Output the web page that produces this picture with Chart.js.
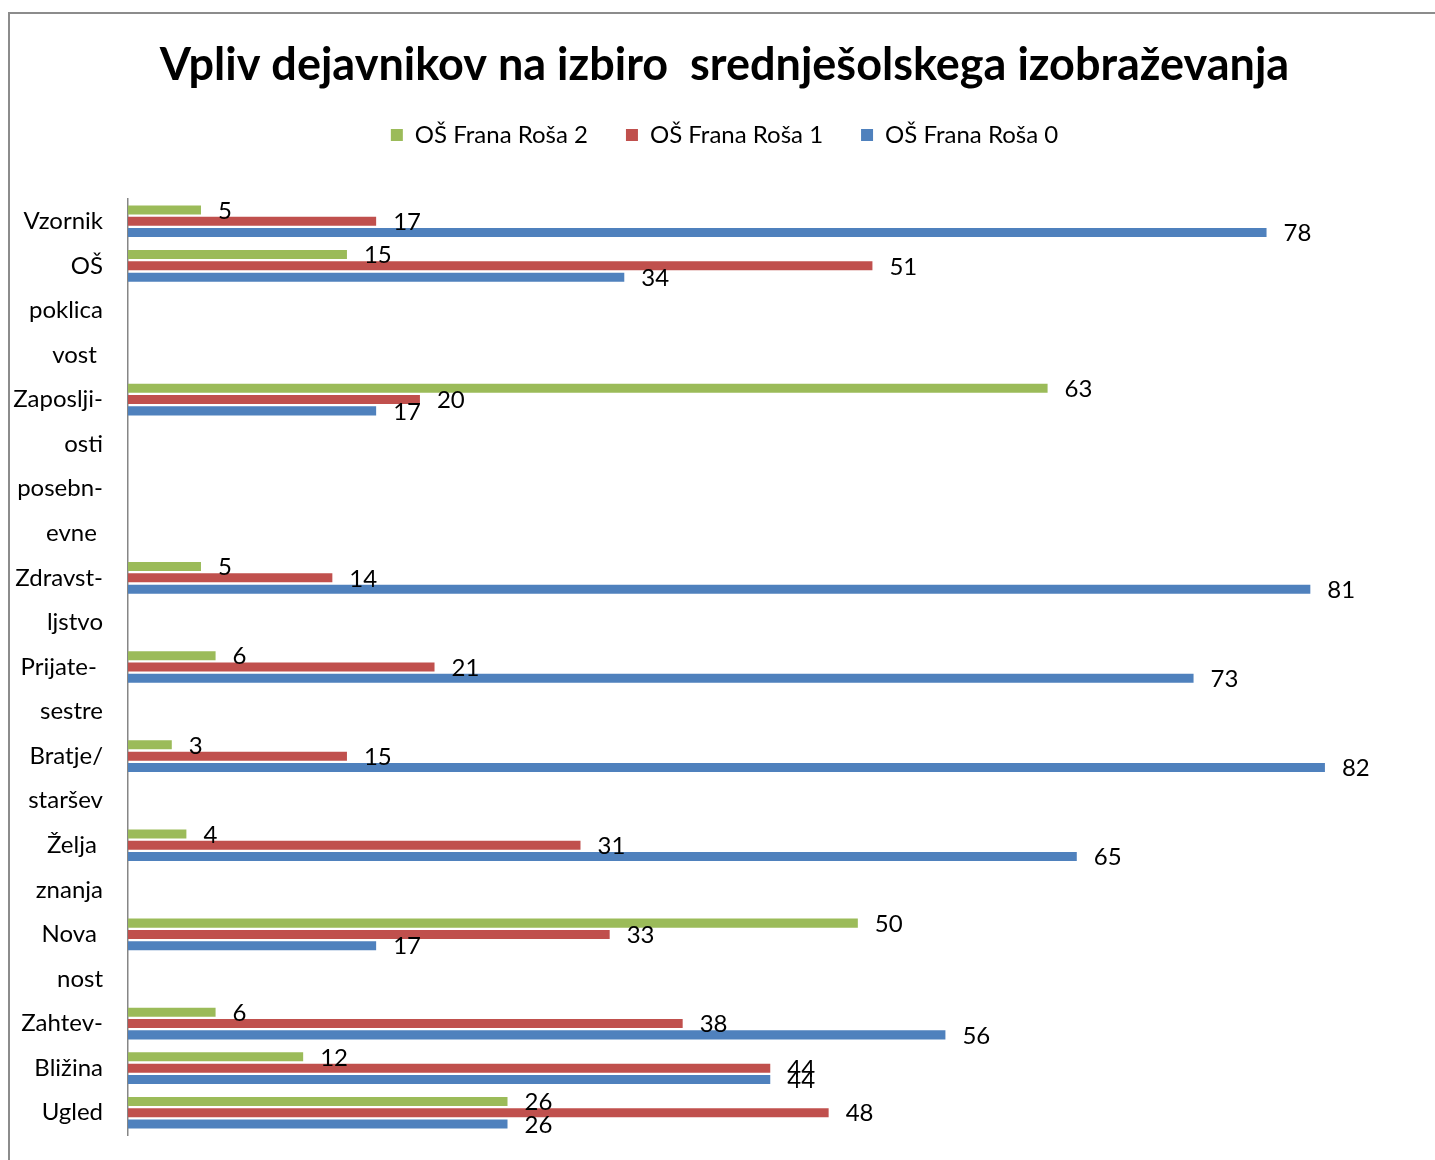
<!DOCTYPE html>
<html>
<head>
<meta charset="utf-8">
<script src="https://cdn.jsdelivr.net/npm/chart.js@4.4.1/dist/chart.umd.min.js"></script>
<style>
  html, body { margin: 0; padding: 0; background: #fff; overflow: hidden; width: 1435px; height: 1160px; }
  #frame { position: absolute; left: 8px; top: 12px; width: 1600px; height: 1300px; border-left: 2px solid #8c8c8c; border-top: 2px solid #8c8c8c; }
  #chart { position: absolute; left: 0; top: 0; }
</style>
</head>
<body>
<div id="frame"></div>
<canvas id="chart" width="1449" height="1180"></canvas>
<script>
// kategorije (nekatere oznake so v izvirniku razbite v več vrstic)
const categories = ['Vzornik', 'OŠ', 'poklica', 'vost ', 'Zaposlji-', 'osti', 'posebn-', 'evne ',
  'Zdravst-', 'ljstvo', 'Prijate- ', 'sestre', 'Bratje/', 'staršev', 'Želja ', 'znanja',
  'Nova ', 'nost', 'Zahtev-', 'Bližina', 'Ugled'];

const seriesNames = ['OŠ Frana Roša 2', 'OŠ Frana Roša 1', 'OŠ Frana Roša 0'];
const frana2 = [5, 15, null, null, 63, null, null, null, 5, null, 6, null, 3, null, 4, null, 50, null, 6, 12, 26];
const frana1 = [17, 51, null, null, 20, null, null, null, 14, null, 21, null, 15, null, 31, null, 33, null, 38, 44, 48];
const frana0 = [78, 34, null, null, 17, null, null, null, 81, null, 73, null, 82, null, 65, null, 17, null, 56, 44, 26];

const colors = ['#9BBB59', '#C0504D', '#4F81BD'];

// vrednosti desno od stolpcev
const valueLabels = {
  id: 'valueLabels',
  afterDatasetsDraw(chart) {
    const ctx = chart.ctx;
    ctx.save();
    ctx.font = '24px Lato';
    ctx.fillStyle = '#000';
    ctx.textBaseline = 'middle';
    ctx.textAlign = 'left';
    chart.data.datasets.forEach((ds, i) => {
      chart.getDatasetMeta(i).data.forEach((bar, j) => {
        if (ds.data[j] == null) return;
        ctx.fillText(String(ds.data[j]), bar.x + 17, bar.y + 1);
      });
    });
    ctx.restore();
  }
};

// več prostora pod legendo
const legendGap = {
  id: 'legendGap',
  beforeInit(chart) {
    const fit = chart.legend.fit;
    chart.legend.fit = function () {
      fit.bind(chart.legend)();
      this.height += 42;
    };
  }
};

function draw() {
  const ctx = document.getElementById('chart').getContext('2d');
  new Chart(ctx, {
    type: 'bar',
    data: {
      labels: categories,
      datasets: [frana2, frana1, frana0].map((d, i) => ({
        label: seriesNames[i],
        data: d,
        backgroundColor: colors[i],
        borderWidth: 0,
        categoryPercentage: 0.76,
        barPercentage: 0.8
      }))
    },
    options: {
      indexAxis: 'y',
      responsive: false,
      animation: false,
      layout: { padding: { left: 0, right: 0, top: 0, bottom: 45 } },
      plugins: {
        title: {
          display: true,
          text: 'Vpliv dejavnikov na izbiro  srednješolskega izobraževanja',
          color: '#000',
          font: { family: 'Lato', size: 45, weight: 'bold', lineHeight: 0.8 },
          padding: { top: 47, bottom: 2 }
        },
        legend: {
          display: true,
          position: 'top',
          labels: {
            color: '#000',
            font: { family: 'Lato', size: 24 },
            boxWidth: 12,
            boxHeight: 12,
            padding: 38
          }
        },
        tooltip: { enabled: false }
      },
      scales: {
        x: {
          display: false,
          min: 0,
          max: 90.5
        },
        y: {
          afterFit(scale) { scale.width = 128; },
          grid: { display: false, drawTicks: false },
          border: { display: true, color: '#868686', width: 1.5 },
          ticks: {
            color: '#000',
            font: { family: 'Lato', size: 24 },
            padding: 25,
            autoSkip: false
          }
        }
      }
    },
    plugins: [valueLabels, legendGap]
  });
}

document.fonts.load('24px Lato').then(() => document.fonts.load('bold 45px Lato')).then(draw, draw);
</script>
</body>
</html>
